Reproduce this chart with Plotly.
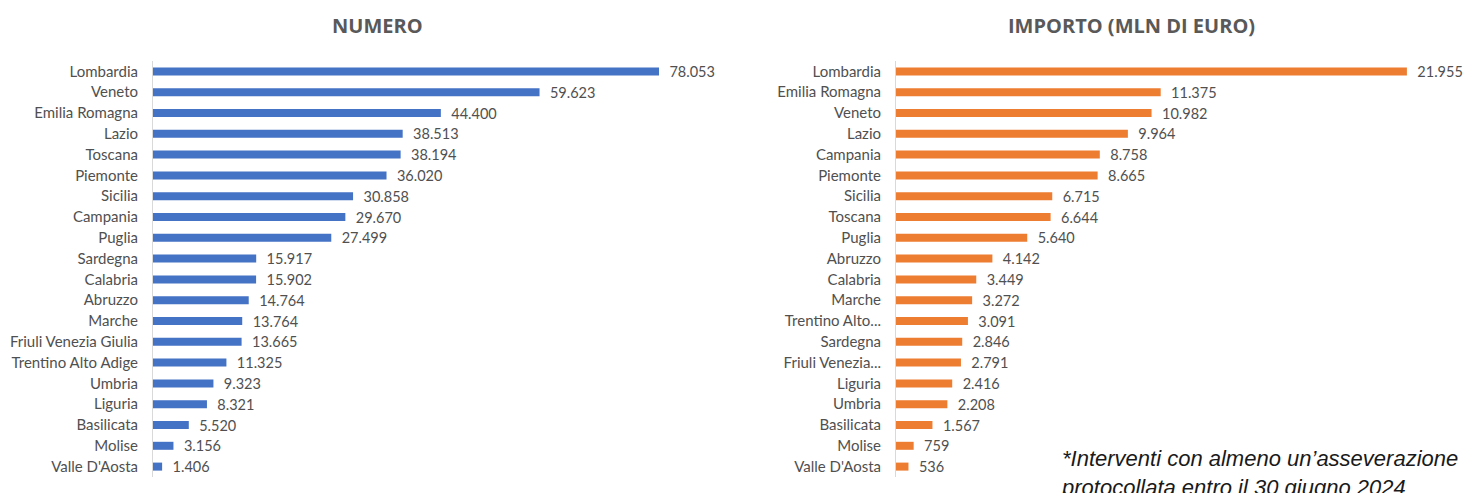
import plotly.graph_objects as go

W, H = 1465, 493

num_regions = ["Lombardia", "Veneto", "Emilia Romagna", "Lazio", "Toscana", "Piemonte",
               "Sicilia", "Campania", "Puglia", "Sardegna", "Calabria", "Abruzzo", "Marche",
               "Friuli Venezia Giulia", "Trentino Alto Adige", "Umbria", "Liguria",
               "Basilicata", "Molise", "Valle D'Aosta"]
num_values = [78053, 59623, 44400, 38513, 38194, 36020, 30858, 29670, 27499, 15917,
              15902, 14764, 13764, 13665, 11325, 9323, 8321, 5520, 3156, 1406]

imp_regions = ["Lombardia", "Emilia Romagna", "Veneto", "Lazio", "Campania", "Piemonte",
               "Sicilia", "Toscana", "Puglia", "Abruzzo", "Calabria", "Marche",
               "Trentino Alto...", "Sardegna", "Friuli Venezia...", "Liguria", "Umbria",
               "Basilicata", "Molise", "Valle D'Aosta"]
imp_values = [21955, 11375, 10982, 9964, 8758, 8665, 6715, 6644, 5640, 4142, 3449, 3272,
              3091, 2846, 2791, 2416, 2208, 1567, 759, 536]

title_left = "NUMERO"
title_right = "IMPORTO (MLN DI EURO)"
footnote = "*Interventi con almeno un’asseverazione<br>protocollata entro il 30 giugno 2024"

LABEL_FONT = "Lato, sans-serif"
TEXT_COLOR = "#505050"

fig = go.Figure()
for vals, regs, color, xa, ya in [
    (num_values, num_regions, "#4472C4", "x", "y"),
    (imp_values, imp_regions, "#ED7D31", "x2", "y2"),
]:
    fig.add_trace(go.Bar(
        x=vals, y=regs, orientation="h",
        marker=dict(color=color, line=dict(width=0)),
        texttemplate="\u00a0\u00a0%{x:,}", textposition="outside", cliponaxis=False,
        constraintext="none",
        textfont=dict(family=LABEL_FONT, size=14.5, color=TEXT_COLOR),
        xaxis=xa, yaxis=ya, hoverinfo="skip",
    ))

m_t, m_b = 61, 16
ph = H - m_t - m_b

def ypix(p):
    return (H - m_b - p) / ph

yax = dict(type="category", autorange="reversed", showline=True, linecolor="#D9D9D9",
           linewidth=1, showgrid=False, zeroline=False, ticks="",
           ticklabelstandoff=11,
           tickfont=dict(family=LABEL_FONT, size=15, color=TEXT_COLOR))

title_font = dict(family="Open Sans, sans-serif", size=20, color="#595959")

fig.update_layout(
    width=W, height=H,
    margin=dict(l=0, r=0, t=m_t, b=m_b),
    paper_bgcolor="white", plot_bgcolor="white",
    separators=",.",
    showlegend=False,
    bargap=0.615,
    xaxis=dict(domain=[153 / W, 700 / W], range=[0, 84373], visible=False, anchor="y"),
    yaxis=dict(**yax, anchor="x", categoryorder="array", categoryarray=num_regions),
    xaxis2=dict(domain=[896 / W, 1450 / W], range=[0, 23807], visible=False, anchor="y2"),
    yaxis2=dict(**yax, anchor="x2", categoryorder="array", categoryarray=imp_regions),
    annotations=[
        dict(text="<b>" + title_left + "</b>", x=377 / W, y=ypix(25), xref="paper", yref="paper",
             xanchor="center", yanchor="middle", showarrow=False, font=title_font),
        dict(text="<b>" + title_right + "</b>", x=1131 / W, y=ypix(25), xref="paper", yref="paper",
             xanchor="center", yanchor="middle", showarrow=False, font=title_font),
        dict(text="<i>" + footnote + "</i>", x=1059 / W, y=ypix(444), xref="paper", yref="paper",
             xanchor="left", yanchor="top", align="left", showarrow=False,
             font=dict(family="Liberation Sans, Arial, sans-serif", size=22, color="#1A1A1A")),
    ],
)

fig.write_html("out.html")
